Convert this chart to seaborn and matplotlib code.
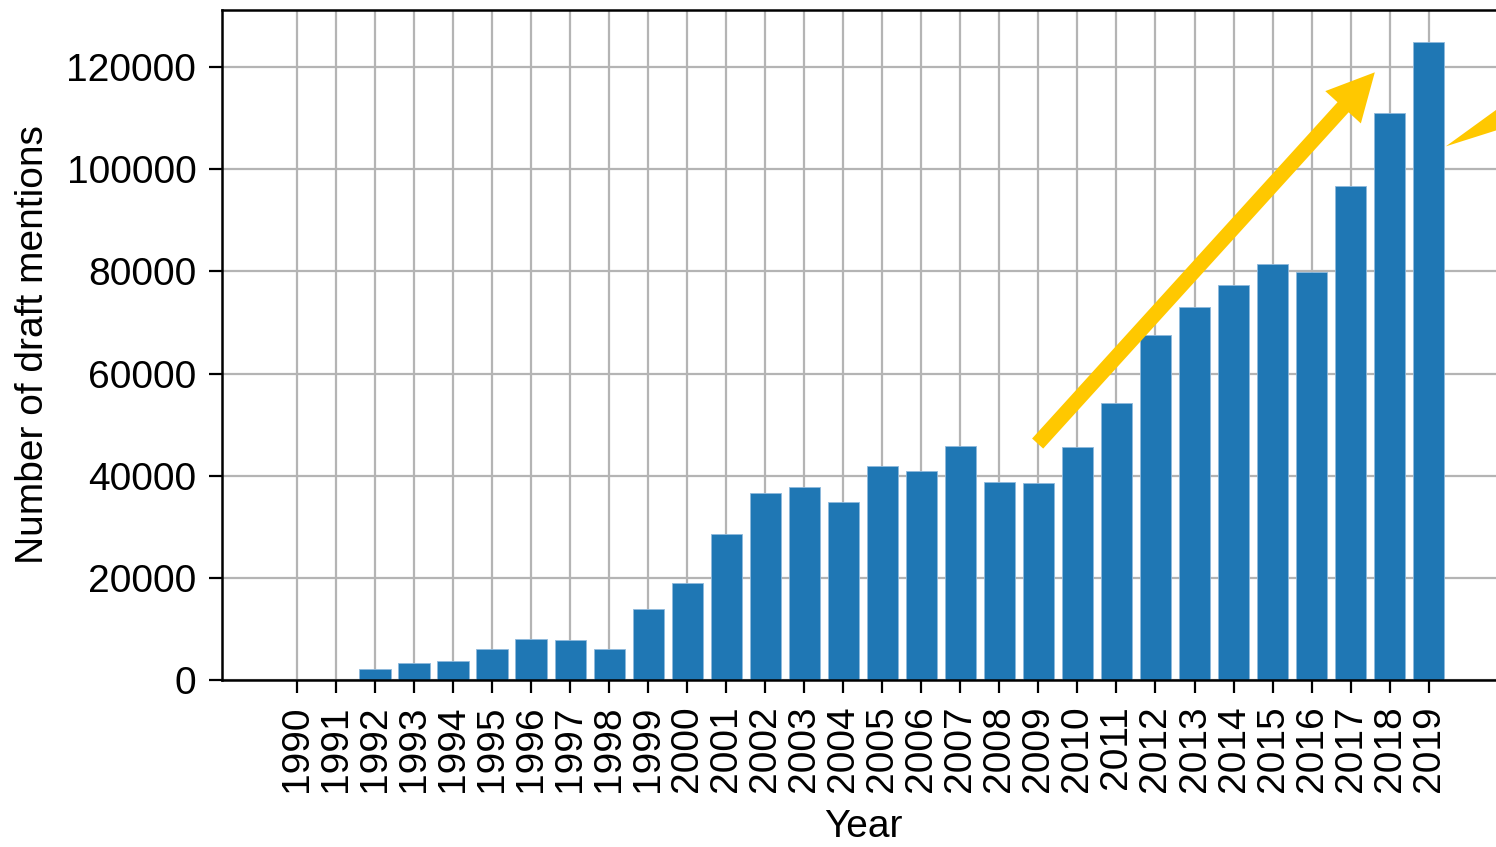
"""Draft mentions per year, bar chart with trend arrows."""

import matplotlib

matplotlib.use("Agg")
import matplotlib.pyplot as plt
import pandas as pd
import seaborn as sns

years = list(range(1990, 2020))
mentions = [
    0, 0, 2100, 3400, 3800, 6000, 8100, 7900, 6000, 13900,
    18900, 28500, 36700, 37700, 34800, 41900, 40900, 45800, 38800, 38600,
    45600, 54200, 67500, 73000, 77300, 81400, 79800, 96700, 111100, 125000,
]
y_ticks = [0, 20000, 40000, 60000, 80000, 100000, 120000]

BAR_COLOR = "#1f77b4"
ARROW_COLOR = "#ffc800"
FS = 28


def main() -> None:
    sns.set_theme(style="whitegrid")
    plt.rcParams["font.family"] = ["Liberation Sans", "DejaVu Sans"]
    plt.rcParams.update({
        "font.size": FS,
        "text.color": "black",
        "axes.labelcolor": "black",
        "xtick.color": "black",
        "ytick.color": "black",
    })

    df = pd.DataFrame({"year": [str(y) for y in years], "mentions": mentions})

    fig = plt.figure(figsize=(14.96, 8.47), dpi=100)
    ax = fig.add_axes([222 / 1496, 1 - 680 / 847, (1504 - 222) / 1496, 670 / 847])

    sns.barplot(x="year", y="mentions", data=df, ax=ax, color=BAR_COLOR,
                saturation=1, width=0.8, edgecolor="#8fb9dc", linewidth=0.6)

    ax.set_axisbelow(True)
    ax.grid(True, color="#b4b4b4", linewidth=1.6)
    ax.set_xlim(-1.92, 30.93)
    ax.set_ylim(0, 131200)
    ax.set_yticks(y_ticks)
    ax.set_yticklabels([str(v) for v in y_ticks], fontsize=FS)
    ax.set_xticks(range(len(years)))
    ax.set_xticklabels([str(y) for y in years], rotation=90, fontsize=FS)
    ax.tick_params(bottom=True, left=True, length=9.5, width=1.6, color="black", pad=9)
    ax.set_xlabel("Year", fontsize=FS, labelpad=12)
    ax.set_ylabel("Number of draft mentions", fontsize=FS, labelpad=11)

    for side in ["left", "bottom", "top"]:
        ax.spines[side].set_visible(True)
        ax.spines[side].set_color("black")
        ax.spines[side].set_linewidth(1.8)
    ax.spines["right"].set_visible(False)

    # trend arrow (category positions: index 0 == 1990)
    ax.annotate(
        "", xy=(27.62, 119000), xytext=(18.98, 46300),
        arrowprops=dict(arrowstyle="simple,head_length=3.4,head_width=3.46,tail_width=1.08",
                        color=ARROW_COLOR, shrinkA=0, shrinkB=0, mutation_scale=10, lw=0),
        annotation_clip=False,
    )
    # second arrow, mostly outside the visible area
    ax.annotate(
        "", xy=(29.44, 104500), xytext=(35.9, 129400),
        arrowprops=dict(arrowstyle="simple,head_length=10.5,head_width=3.4,tail_width=1.08",
                        color=ARROW_COLOR, shrinkA=0, shrinkB=0, mutation_scale=10, lw=0),
        annotation_clip=False,
    )

    fig.savefig("out.png", dpi=100)
    plt.close(fig)


if __name__ == "__main__":
    main()
